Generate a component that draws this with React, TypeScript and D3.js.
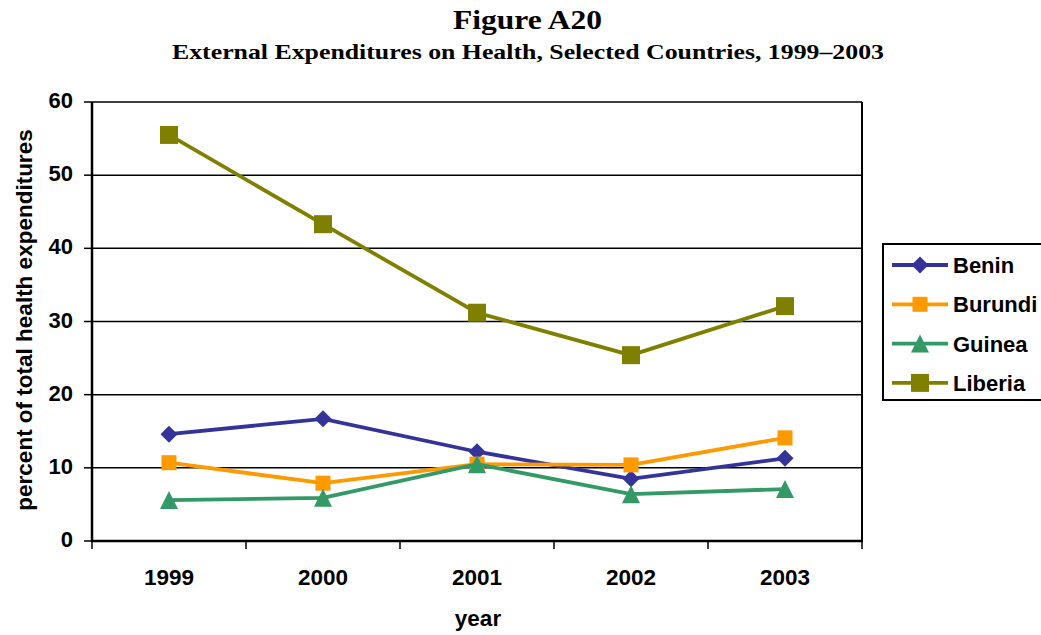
import React from "react";
import * as d3 from "d3";

const years = ["1999", "2000", "2001", "2002", "2003"];
const benin = [14.6, 16.7, 12.2, 8.5, 11.3];
const burundi = [10.7, 7.9, 10.5, 10.4, 14.1];
const guinea = [5.6, 5.9, 10.5, 6.4, 7.1];
const liberia = [55.5, 43.3, 31.2, 25.4, 32.1];
const yTicks = [0, 10, 20, 30, 40, 50, 60];

const seriesList = [
  { name: "Benin", values: benin, color: "#333399", shape: "diamond" },
  { name: "Burundi", values: burundi, color: "#FF9900", shape: "square" },
  { name: "Guinea", values: guinea, color: "#339966", shape: "triangle" },
  { name: "Liberia", values: liberia, color: "#808000", shape: "bigsquare" },
];

function Marker({ shape, x, y, color }: { shape: string; x: number; y: number; color: string }) {
  if (shape === "diamond") {
    const s = 8.5;
    return <path d={`M${x},${y - s}L${x + s},${y}L${x},${y + s}L${x - s},${y}Z`} fill={color} />;
  }
  if (shape === "square") {
    const s = 7.5;
    return <rect x={x - s} y={y - s} width={2 * s} height={2 * s} fill={color} />;
  }
  if (shape === "bigsquare") {
    const s = 9;
    return <rect x={x - s} y={y - s} width={2 * s} height={2 * s} fill={color} />;
  }
  const s = 9;
  return <path d={`M${x},${y - s}L${x + s},${y + s}L${x - s},${y + s}Z`} fill={color} />;
}

export default function App() {
  const left = 92, right = 862, top = 102, bottom = 541;
  const x = d3.scaleBand<string>().domain(years).range([left, right]);
  const y = d3.scaleLinear().domain([0, 60]).range([bottom, top]);
  const line = d3
    .line<number>()
    .x((_, i) => (x(years[i]) as number) + x.bandwidth() / 2)
    .y((d) => y(d));
  const font = "Arial, 'Liberation Sans', sans-serif";
  const serif = "'Times New Roman', 'Liberation Serif', serif";
  const bandEdges = years.map((yr) => x(yr) as number).concat([right]);

  return (
    <svg width={1041} height={635} style={{ position: "absolute", left: 0, top: 0 }}>
      <rect width={1041} height={635} fill="#fff" />
      <text
        x={527.5}
        y={29}
        textAnchor="middle"
        fontFamily={serif}
        fontWeight="bold"
        fontSize={28}
        textLength={149}
        lengthAdjust="spacingAndGlyphs"
      >
        Figure A20
      </text>
      <text
        x={528}
        y={59}
        textAnchor="middle"
        fontFamily={serif}
        fontWeight="bold"
        fontSize={21}
        textLength={712}
        lengthAdjust="spacingAndGlyphs"
      >
        External Expenditures on Health, Selected Countries, 1999–2003
      </text>

      {yTicks.filter((t) => t > 0).map((t) => (
        <line key={t} x1={left} x2={right} y1={y(t)} y2={y(t)} stroke="#000" strokeWidth={1.5} />
      ))}
      <line x1={right} x2={right} y1={top} y2={bottom} stroke="#000" strokeWidth={2} />
      <line x1={left} x2={left} y1={top} y2={bottom + 1} stroke="#000" strokeWidth={2.5} />
      <line x1={left - 1} x2={right + 1} y1={bottom} y2={bottom} stroke="#000" strokeWidth={2.5} />
      {yTicks.map((t) => (
        <g key={t}>
          <line x1={left - 8} x2={left} y1={y(t)} y2={y(t)} stroke="#000" strokeWidth={1.5} />
          <text x={73} y={y(t) + 6} textAnchor="end" fontFamily={font} fontWeight="bold" fontSize={22}>
            {t}
          </text>
        </g>
      ))}
      {bandEdges.map((e, i) => (
        <line key={i} x1={e} x2={e} y1={bottom} y2={bottom + 8} stroke="#000" strokeWidth={1.5} />
      ))}
      {years.map((yr) => (
        <text
          key={yr}
          x={(x(yr) as number) + x.bandwidth() / 2}
          y={585}
          textAnchor="middle"
          fontFamily={font}
          fontWeight="bold"
          fontSize={22.5}
        >
          {yr}
        </text>
      ))}
      <text x={478} y={626} textAnchor="middle" fontFamily={font} fontWeight="bold" fontSize={22.5}>
        year
      </text>
      <text
        transform={`translate(32,320) rotate(-90)`}
        textAnchor="middle"
        fontFamily={font}
        fontWeight="bold"
        fontSize={22.5}
      >
        percent of total health expenditures
      </text>

      {seriesList.map((s) => (
        <g key={s.name}>
          <path d={line(s.values) as string} fill="none" stroke={s.color} strokeWidth={3.8} />
          {s.values.map((v, i) => (
            <Marker
              key={i}
              shape={s.shape}
              x={(x(years[i]) as number) + x.bandwidth() / 2}
              y={y(v)}
              color={s.color}
            />
          ))}
        </g>
      ))}

      <rect x={883} y={244} width={170} height={156} fill="#fff" stroke="#000" strokeWidth={2} />
      {seriesList.map((s, i) => {
        const ly = 265 + i * 39.3;
        return (
          <g key={s.name}>
            <line x1={892} x2={948} y1={ly} y2={ly} stroke={s.color} strokeWidth={3.8} />
            <Marker shape={s.shape} x={920} y={ly} color={s.color} />
            <text x={953} y={ly + 8} fontFamily={font} fontWeight="bold" fontSize={22}>
              {s.name}
            </text>
          </g>
        );
      })}
    </svg>
  );
}
